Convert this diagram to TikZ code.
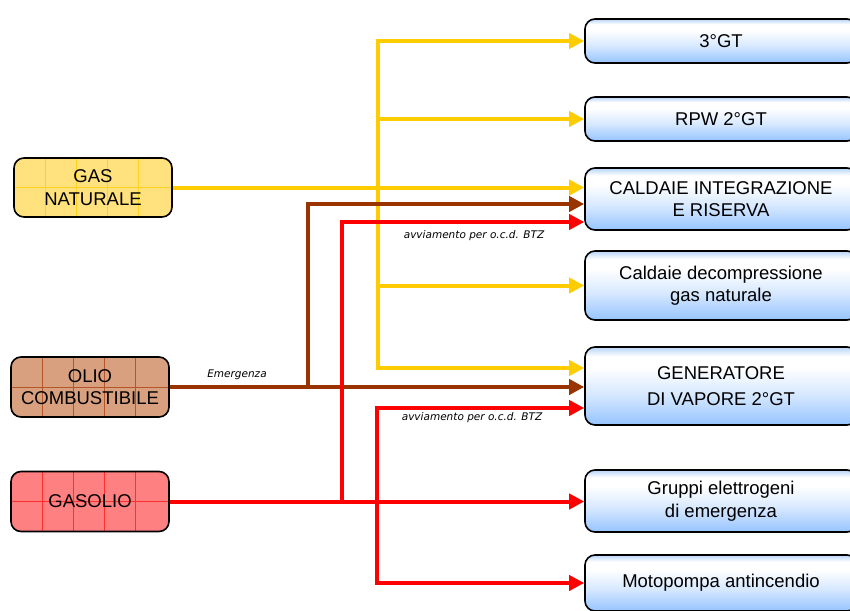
\documentclass[tikz,border=0pt]{standalone}
\usepackage{fontspec}
\setmainfont{Liberation Sans}
\newfontfamily\labfont{DejaVu Sans}
\usetikzlibrary{arrows.meta,calc}
\definecolor{cyel}{HTML}{FFCC00}
\definecolor{cbrn}{HTML}{993300}
\definecolor{cred}{HTML}{FF0000}
\definecolor{gasfill}{HTML}{FFE27D}
\definecolor{gasgrid}{HTML}{FFD21E}
\definecolor{oliofill}{HTML}{D9A07F}
\definecolor{oliogrid}{HTML}{B4552A}
\definecolor{gsofill}{HTML}{FF8080}
\definecolor{gsogrid}{HTML}{FF3030}
\definecolor{btop}{HTML}{B6D4F8}
\definecolor{bbot}{HTML}{96C4FF}
\definecolor{bmid}{HTML}{D8E9FF}
\pgfdeclareverticalshading{boxshade}{100bp}{color(0bp)=(bbot); color(25bp)=(bbot); color(45bp)=(bmid); color(62bp)=(white); color(69bp)=(white); color(75bp)=(btop); color(100bp)=(btop)}
\tikzset{
  big/.style={font=\fontsize{18.5}{22.5}\selectfont},
  rbox/.style={draw=black, line width=1.6pt, rounded corners=10pt, shading=boxshade,
     minimum width=272pt, inner sep=0pt, align=center, big},
  lbox/.style n args={2}{draw=black, line width=1.6pt, rounded corners=10pt, fill=#1,
     minimum width=158pt, minimum height=60pt, inner sep=0pt, align=center, big,
     path picture={
       \foreach \i in {1,2,3,4}
         \draw[#2, line width=0.6pt] ([xshift=31*\i pt]path picture bounding box.north west)
            -- ([xshift=31*\i pt]path picture bounding box.south west);
       \draw[#2, line width=0.6pt] (path picture bounding box.west) -- (path picture bounding box.east);
     }},
  conn/.style={line width=4pt, -{Triangle[length=15pt,width=15pt]}},
  ya/.style={conn, draw=cyel},
  ba/.style={conn, draw=cbrn},
  ra/.style={conn, draw=cred},
  lab/.style={font=\labfont\itshape\fontsize{10.5}{12}\selectfont, inner sep=0pt}
}
\begin{document}
\begin{tikzpicture}[x=1pt,y=-1pt]
\clip (0,0) rectangle (850,610);
\fill[white] (0,0) rectangle (850,610);
% right boxes
\node[rbox, minimum height=44pt] (gt3) at (721,41) {3°GT};
\node[rbox, minimum height=44pt] (rpw) at (721,119) {RPW 2°GT};
\node[rbox, minimum height=62pt] (cint) at (721,199) {CALDAIE INTEGRAZIONE\\E RISERVA};
\node[rbox, minimum height=69pt] (cdec) at (721,285.5) {Caldaie decompressione\\gas naturale};
\node[rbox, minimum height=78pt, font=\fontsize{18.5}{26}\selectfont] (gen) at (721,386) {GENERATORE\\DI VAPORE 2°GT};
\node[rbox, minimum height=62pt] (grup) at (721,501) {Gruppi elettrogeni\\di emergenza};
\node[rbox, minimum height=56pt] (moto) at (721,583) {Motopompa antincendio};
% left boxes
\node[lbox={gasfill}{gasgrid}, minimum height=59pt] (gas) at (93,187.5) {GAS\\NATURALE};
\node[lbox={oliofill}{oliogrid}] (olio) at (90,387) {OLIO\\COMBUSTIBILE};
\node[lbox={gsofill}{gsogrid}] (gso) at (90,501.5) {GASOLIO};
% branch coordinates
\coordinate (yx) at (378,187.5);
\coordinate (bx) at (308,0);
\coordinate (rx1) at (342,0);
\coordinate (rx2) at (377,0);
% yellow
\draw[ya] (yx) |- (gt3.west);
\draw[ya] (yx) |- (rpw.west);
\draw[ya] (yx) |- (cdec.west);
\draw[ya] (yx) |- ([yshift=18pt]gen.west);
\draw[ya] (gas.east) -- (gas.east -| cint.west);
% brown
\draw[ba] (olio.east -| bx) |- ([yshift=-5pt]cint.west);
\draw[ba] (olio.east) -- (olio.east -| gen.west);
% red
\draw[ra] (gso.east -| rx1) |- ([yshift=-23pt]cint.west);
\draw[ra] (gso.east -| rx2) |- ([yshift=-22pt]gen.west);
\draw[ra] (gso.east -| rx2) |- (moto.west);
\draw[ra] (gso.east) -- (gso.east -| grup.west);
% labels
\node[lab] (lemer) at (237,374.5) {Emergenza};
\node[lab] (lavv1) at (474,236) {avviamento per o.c.d. BTZ};
\node[lab] (lavv2) at (472,418) {avviamento per o.c.d. BTZ};
\end{tikzpicture}
\end{document}
